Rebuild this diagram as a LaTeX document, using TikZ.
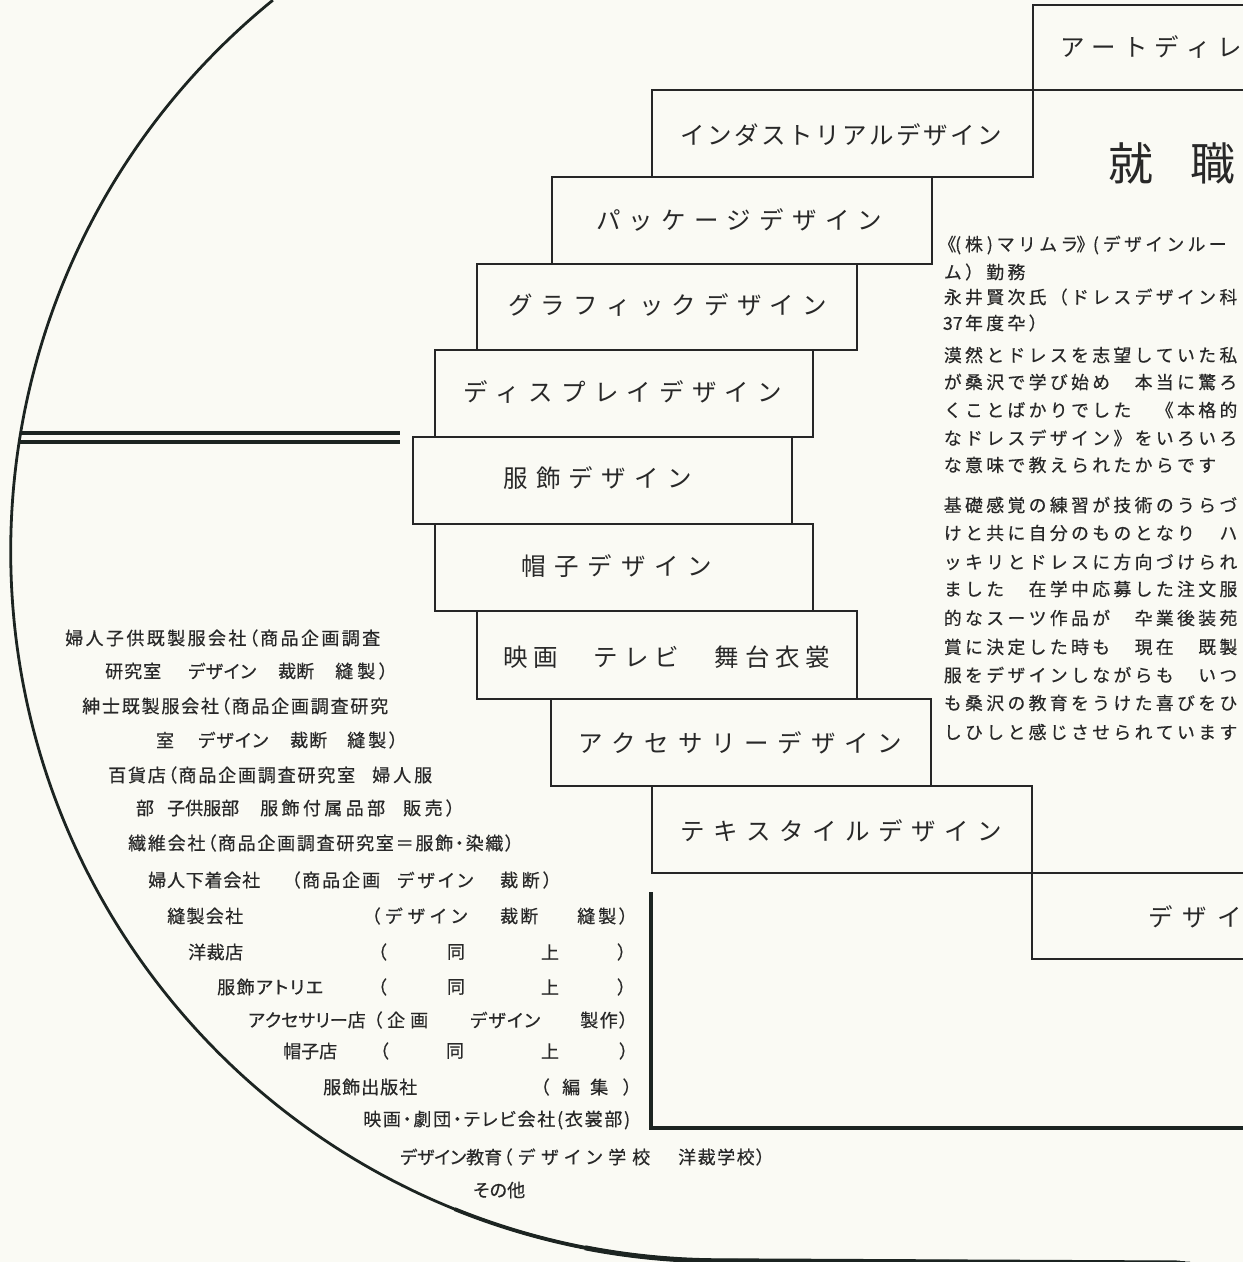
\documentclass[tikz,border=0pt]{standalone}
\usepackage{fontspec}
\usetikzlibrary{fit}
\newfontfamily\jp{Noto Sans CJK JP}
\newfontfamily\jpd[FakeBold=0.5]{Noto Sans CJK JP}
\newfontfamily\jpl[FakeBold=0.5,RawFeature=+palt]{Noto Sans CJK JP}
\definecolor{bgc}{RGB}{250,250,244}
\definecolor{ink}{RGB}{40,40,40}
\definecolor{linec}{RGB}{38,38,38}
\definecolor{circc}{RGB}{28,36,33}
\ExplSyntaxOn
\NewDocumentCommand\spreadto{m m}{
  \hbox_to_wd:nn {#1} {
    \bool_set_true:N \l_tmpa_bool
    \tl_map_inline:nn {#2} {
      \bool_if:NF \l_tmpa_bool { \hfil }
      \bool_set_false:N \l_tmpa_bool
      ##1
    }
  }
}
\NewDocumentCommand\gridline{m m}{
  \tl_map_inline:nn {#2} { \hbox_to_wd:nn {#1} { \hss ##1 \hss } }
}
\ExplSyntaxOff
\newcommand\rgl[1]{\gridline{21.2pt}{#1}}
\newcommand\rgh[1]{\gridline{10.6pt}{#1}}
\NewDocumentCommand\tseg{O{lst} m m m m m}{\node[#1] (#2) at (#3,#5) {\spreadto{#4pt-#3pt}{#6}};}
\NewDocumentCommand\lone{m m m m}{\node[lst,anchor=center] (#1) at (#2,#3) {#4};}
\NewDocumentCommand\rline{m m m}{\node[rtx] (#1) at (942,#2) {#3};}
\begin{document}
\begin{tikzpicture}[x=1pt,y=-1pt,
  box/.style={draw=linec, line width=1.5pt, inner sep=0pt},
  lst/.style={font=\jpl\fontsize{18}{18}\selectfont, inner sep=0pt, text=ink, anchor=west},
  lbl/.style={font=\jp\fontsize{24.5}{24.5}\selectfont, inner sep=0pt, text=ink, anchor=west},
  big/.style={font=\jp\fontsize{45}{45}\selectfont, inner sep=0pt, text=ink, anchor=west},
  rtx/.style={font=\jpd\fontsize{17.8}{17.8}\selectfont, inner sep=0pt, text=ink, anchor=west},
  circ/.style={draw=circc, line width=2.8pt},
  dbl/.style={draw=circc, line width=3.6pt},
  frame/.style={draw=circc, line width=4.5pt, line join=miter}]
\useasboundingbox (0,0) rectangle (1243,1262);
\fill[bgc] (0,0) rectangle (1243,1262);

% big circle
\coordinate (cc) at (720.5,551);
\draw[circ] (cc) ++(230.9:709.8) arc[start angle=230.9, end angle=90, radius=709.8] -- (1190,1263);
\draw[draw=circc, line width=3.8pt] (cc) ++(112:709.8) arc[start angle=112, end angle=90, radius=709.8] -- (1185,1263);
\draw[draw=circc, line width=5pt] (cc) ++(101:709.8) arc[start angle=101, end angle=90, radius=709.8] -- (1180,1263);

% double rule
\coordinate (d1l) at (20.7,433); \coordinate (d1r) at (400,433);
\coordinate (d2l) at (19.2,442); \coordinate (d2r) at (400,442);
\draw[dbl] (d1l) -- (d1r);
\draw[dbl] (d2l) -- (d2r);

% thick L frame
\coordinate (fa) at (651,892); \coordinate (fb) at (1243,1128);
\draw[frame] (fa) |- (fb);

% staircase boxes
\node[box, fit={(652,90) (1033,177)}] (ind) {};
\node[box, fit={(552,177) (932,264)}] (pkg) {};
\node[box, fit={(477,264) (857,350)}] (gra) {};
\node[box, fit={(435,350) (813,437)}] (dis) {};
\node[box, fit={(413,437) (792,524)}] (fuku) {};
\node[box, fit={(435,524) (813,611)}] (bou) {};
\node[box, fit={(477,611) (857,699)}] (eiga) {};
\node[box, fit={(551,699) (931,786)}] (acc) {};
\node[box, fit={(652,786) (1032,873)}] (tex) {};
% partial boxes at right edge
\draw[draw=linec, line width=1.5pt] (1245,5) -- (1033,5) -- (1033,90) -- (1245,90);
\draw[draw=linec, line width=1.5pt] (1032,873) -- (1245,873);
\draw[draw=linec, line width=1.5pt] (1032,873) -- (1032,959) -- (1245,959);

% box labels
\tseg[lbl]{artt}{1060}{1242}{47}{アートディレ}
\tseg[lbl]{indt}{680}{1002}{135}{インダストリアルデザイン}
\tseg[lbl]{pkgt}{596}{882}{220}{パッケージデザイン}
\tseg[lbl]{grat}{508}{827}{305}{グラフィックデザイン}
\tseg[lbl]{dist}{463}{782}{392}{ディスプレイデザイン}
\tseg[lbl]{fukut}{503}{692}{478}{服飾デザイン}
\tseg[lbl]{bout}{521}{712}{566}{帽子デザイン}
\tseg[lbl]{eigat}{503}{830}{657}{映画　テレビ　舞台衣裳}
\tseg[lbl]{acct}{578}{902}{743}{アクセサリーデザイン}
\tseg[lbl]{text}{680}{1002}{831}{テキスタイルデザイン}
\tseg[lbl]{desit}{1148}{1242}{917}{デザイ}
\tseg[big]{shoku}{1108}{1235}{163}{就職}

% right column text
\rline{r1}{245}{\rgh{《(}\rgl{株}\rgh{)}\rgl{マリムラ}\rgh{》(}\rgl{デザインルー}}
\rline{r2}{272}{\rgl{ム）勤務}}
\rline{r3}{297}{\rgl{永井賢次氏（ドレスデザイン科}}
\rline{r4}{323}{\rgl{{37}年度卆）}}
\rline{r5}{355}{\rgl{漠然とドレスを志望していた私}}
\rline{r6}{382}{\rgl{が桑沢で学び始め　本当に驚ろ}}
\rline{r7}{410}{\rgl{くことばかりでした　《本格的}}
\rline{r8}{438}{\rgl{なドレスデザイン》をいろいろ}}
\rline{r9}{465}{\rgl{な意味で教えられたからです}}
\rline{r10}{505}{\rgl{基礎感覚の練習が技術のうらづ}}
\rline{r11}{533}{\rgl{けと共に自分のものとなり　ハ}}
\rline{r12}{562}{\rgl{ッキリとドレスに方向づけられ}}
\rline{r13}{589}{\rgl{ました　在学中応募した注文服}}
\rline{r14}{618}{\rgl{的なスーツ作品が　卆業後装苑}}
\rline{r15}{647}{\rgl{賞に決定した時も　現在　既製}}
\rline{r16}{675}{\rgl{服をデザインしながらも　いつ}}
\rline{r17}{703}{\rgl{も桑沢の教育をうけた喜びをひ}}
\rline{r18}{732}{\rgl{しひしと感じさせられています}}

% left list
\tseg{a1}{65}{380}{638}{婦人子供既製服会社（商品企画調査}
\tseg{a2a}{105}{161}{671}{研究室}
\tseg{a2b}{188}{256}{671}{デザイン}
\tseg{a2c}{278}{314}{671}{裁断}
\tseg{a2d}{335}{388}{671}{縫製）}
\tseg{a3}{82}{388}{706}{紳士既製服会社（商品企画調査研究}
\lone{a4a}{165}{740}{室}
\tseg{a4b}{198}{268}{740}{デザイン}
\tseg{a4c}{290}{327}{740}{裁断}
\tseg{a4d}{347}{398}{740}{縫製）}
\tseg{a5a}{108}{355}{775}{百貨店（商品企画調査研究室}
\tseg{a5b}{372}{432}{775}{婦人服}
\lone{a6a}{145}{808}{部}
\tseg{a6b}{167}{233}{808}{子供服部}
\tseg{a6c}{260}{385}{808}{服飾付属品部}
\tseg{a6d}{403}{455}{808}{販売）}
\tseg{a7}{128}{514}{843}{繊維会社（商品企画調査研究室＝服飾・染織）}
\tseg{a8a}{148}{260}{880}{婦人下着会社}
\tseg{a8b}{291}{380}{880}{（商品企画}
\tseg{a8c}{397}{473}{880}{デザイン}
\tseg{a8d}{500}{552}{880}{裁断）}
\tseg{a9a}{167}{243}{916}{縫製会社}
\tseg{a9b}{371}{467}{916}{（デザイン}
\tseg{a9c}{500}{538}{916}{裁断}
\tseg{a9d}{577}{628}{916}{縫製）}
\tseg{a10a}{188}{243}{952}{洋裁店}
\lone{a10b}{382}{952}{（}
\lone{a10c}{456}{952}{同}
\lone{a10d}{550}{952}{上}
\lone{a10e}{622}{952}{）}
\tseg{a11a}{217}{323}{987}{服飾アトリエ}
\lone{a11b}{382}{987}{（}
\lone{a11c}{456}{987}{同}
\lone{a11d}{550}{987}{上}
\lone{a11e}{622}{987}{）}
\tseg{a12a}{248}{357}{1020}{アクセサリー店}
\tseg{a12b}{373}{428}{1020}{（企画}
\tseg{a12c}{470}{540}{1020}{デザイン}
\tseg{a12d}{580}{628}{1020}{製作）}
\tseg{a13a}{283}{335}{1051}{帽子店}
\lone{a13b}{384}{1051}{（}
\lone{a13c}{455}{1051}{同}
\lone{a13d}{550}{1051}{上}
\lone{a13e}{624}{1051}{）}
\tseg{a14a}{323}{417}{1087}{服飾出版社}
\tseg{a14b}{540}{580}{1087}{（編}
\tseg{a14c}{590}{632}{1087}{集）}
\tseg{a15}{363}{630}{1120}{映画・劇団・テレビ会社(衣裳部)}
\tseg{a16a}{400}{498}{1157}{デザイン教育}
\tseg{a16b}{503}{650}{1157}{（デザイン学校}
\tseg{a16c}{678}{765}{1157}{洋裁学校）}
\tseg{a17}{473}{525}{1190}{その他}
\end{tikzpicture}
\end{document}
